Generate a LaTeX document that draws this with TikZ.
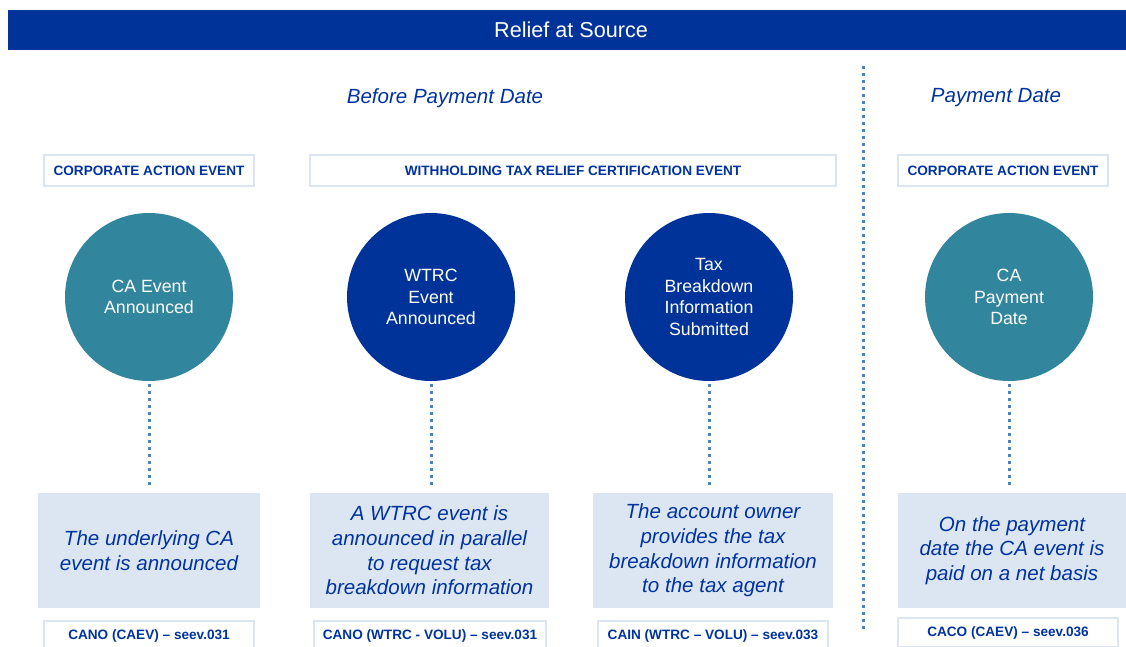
\documentclass[tikz,border=0pt]{standalone}
\usepackage{fontspec}
\setmainfont{Liberation Sans}
\definecolor{barblue}{HTML}{003399}
\definecolor{navy}{HTML}{0033A0}
\definecolor{teal}{HTML}{31859C}
\definecolor{lightbox}{HTML}{DCE6F2}
\definecolor{hdrborder}{HTML}{DDE5F2}
\definecolor{dotblue}{HTML}{4F81BD}
\tikzset{
  titlebar/.style={fill=barblue, draw=none, text=white, font=\fontsize{16.2}{19}\selectfont, inner sep=0pt},
  phase/.style={text=navy, font=\fontsize{15.4}{18}\selectfont\itshape, inner sep=0pt},
  hdrbox/.style={draw=hdrborder, line width=1.5pt, fill=white, text=navy, font=\fontsize{10.2}{12}\selectfont\bfseries, inner sep=0pt, minimum height=23.25pt},
  evcircle/.style={circle, draw=none, minimum size=126pt, inner sep=0pt, text=white, align=center, font=\fontsize{13.3}{16.1}\selectfont},
  descbox/.style={fill=lightbox, draw=none, text=navy, align=center, font=\fontsize{15.4}{18.5}\selectfont\itshape, inner sep=0pt, minimum height=86.25pt},
  codebox/.style={draw=hdrborder, line width=1.5pt, fill=white, text=navy, font=\fontsize{10.2}{12}\selectfont\bfseries, inner sep=0pt, minimum height=21.75pt},
  dotline/.style={draw=dotblue, line width=2.25pt, dash pattern=on 2.25pt off 3pt},
}
\begin{document}
\begin{tikzpicture}[x=0.75pt,y=-0.75pt]
\useasboundingbox (0,0) rectangle (1126,646);
% title bar
\node[titlebar, minimum width=844.5pt, minimum height=30pt] (title) at (571,30) {Relief at Source};
% phases
\node[phase] (before) at (445,98) {Before Payment Date};
\node[phase] (paydate) at (996,98) {Payment Date};
% divider
\coordinate (divtop) at (863,66);
\coordinate (divbot) at (863,632);
\draw[dotline] (divtop) -- (divbot);
% headers
\node[hdrbox, minimum width=157.5pt] (h1) at (149,170.5) {CORPORATE ACTION EVENT};
\node[hdrbox, minimum width=394.5pt] (h2) at (573,170.5) {WITHHOLDING TAX RELIEF CERTIFICATION EVENT};
\node[hdrbox, minimum width=157.5pt] (h3) at (1003,170.5) {CORPORATE ACTION EVENT};
% circles
\node[evcircle, fill=teal] (c1) at (149,297) {CA Event\\Announced};
\node[evcircle, fill=barblue] (c2) at (431,297) {WTRC\\Event\\Announced};
\node[evcircle, fill=barblue] (c3) at (709,297) {Tax\\Breakdown\\Information\\Submitted};
\node[evcircle, fill=teal] (c4) at (1009,297) {CA\\Payment\\Date};
% description boxes
\node[descbox, minimum width=166.5pt] (b1) at (149,550.5) {The underlying CA\\event is announced};
\node[descbox, minimum width=179.25pt] (b2) at (429.5,550.5) {A WTRC event is\\announced in parallel\\to request tax\\breakdown information};
\node[descbox, minimum width=180pt] (b3) at (713,550.5) {The account owner\\provides the tax\\breakdown information\\to the tax agent};
\node[descbox, minimum width=171pt] (b4) at (1012,550.5) {On the payment\\date the CA event is\\paid on a net basis};
% code boxes
\node[codebox, minimum width=157.5pt] (k1) at (149,635.5) {CANO (CAEV) – seev.031};
\node[codebox, minimum width=174pt] (k2) at (430,635.5) {CANO (WTRC - VOLU) – seev.031};
\node[codebox, minimum width=172.5pt] (k3) at (713,635.5) {CAIN (WTRC – VOLU) – seev.033};
\node[codebox, minimum width=165pt] (k4) at (1008,632.5) {CACO (CAEV) – seev.036};
% connectors
\draw[dotline, shorten <=2pt, shorten >=6pt] (c1.south) -- (c1.south |- b1.north);
\draw[dotline, shorten <=2pt, shorten >=6pt] (c2.south) -- (c2.south |- b2.north);
\draw[dotline, shorten <=2pt, shorten >=6pt] (c3.south) -- (c3.south |- b3.north);
\draw[dotline, shorten <=2pt, shorten >=6pt] (c4.south) -- (c4.south |- b4.north);
\end{tikzpicture}
\end{document}
